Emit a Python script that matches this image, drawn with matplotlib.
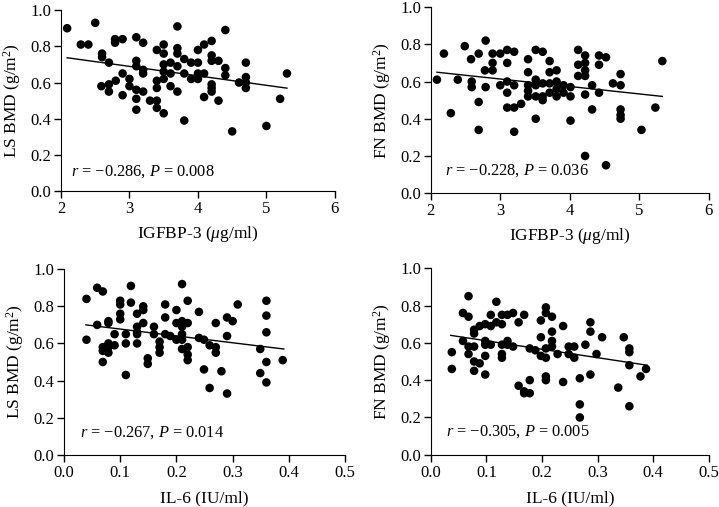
import numpy as np
import matplotlib
matplotlib.use("Agg")
import matplotlib.pyplot as plt
from matplotlib.ticker import FormatStrFormatter

plt.rcParams['font.family'] = ['Liberation Serif', 'DejaVu Serif']
plt.rcParams['mathtext.fontset'] = 'custom'
plt.rcParams['mathtext.rm'] = 'Liberation Serif'
plt.rcParams['mathtext.it'] = 'Liberation Serif:italic'

# Panel A: IGFBP-3 vs LS BMD
igf_ls_x = [2.09, 2.29, 2.40, 2.50, 2.60, 2.60, 2.70, 2.59, 2.70, 2.70, 2.80, 2.79, 2.79, 2.90, 2.90, 2.90,
            3.00, 3.00, 3.10, 3.10, 3.10, 3.10, 3.10, 3.10, 3.20, 3.20, 3.20, 3.20, 3.30, 3.40, 3.40, 3.40,
            3.40, 3.40, 3.50, 3.50, 3.50, 3.50, 3.50, 3.50, 3.60, 3.60, 3.60, 3.70, 3.70, 3.70, 3.70, 3.70,
            3.80, 3.80, 3.80, 3.90, 3.90, 4.00, 4.00, 4.00, 4.00, 4.09, 4.09, 4.09, 4.20, 4.20, 4.20, 4.20,
            4.20, 4.20, 4.30, 4.30, 4.40, 4.40, 4.40, 4.50, 4.60, 4.70, 4.70, 4.70, 4.70, 5.00, 5.20, 5.30]
igf_ls_y = [0.90, 0.81, 0.81, 0.93, 0.76, 0.74, 0.71, 0.58, 0.59, 0.55, 0.61, 0.84, 0.82, 0.84, 0.65, 0.53,
            0.62, 0.58, 0.85, 0.72, 0.69, 0.56, 0.51, 0.45, 0.82, 0.67, 0.65, 0.55, 0.50, 0.78, 0.61, 0.57,
            0.50, 0.46, 0.81, 0.76, 0.70, 0.66, 0.62, 0.43, 0.71, 0.65, 0.58, 0.91, 0.79, 0.76, 0.69, 0.55,
            0.73, 0.65, 0.39, 0.71, 0.62, 0.78, 0.71, 0.65, 0.62, 0.81, 0.65, 0.52, 0.83, 0.75, 0.72, 0.59,
            0.57, 0.55, 0.72, 0.50, 0.89, 0.68, 0.64, 0.33, 0.60, 0.71, 0.63, 0.60, 0.57, 0.36, 0.51, 0.65]
igf_ls_fit = [(2.09, 5.30), (0.737, 0.569)]

# Panel B: IGFBP-3 vs FN BMD
igf_fn_x = [2.09, 2.19, 2.29, 2.39, 2.49, 2.58, 2.59, 2.59, 2.69, 2.69, 2.69, 2.79, 2.78, 2.79, 2.89, 2.89,
            2.89, 3.00, 3.00, 3.10, 3.10, 3.10, 3.10, 3.10, 3.20, 3.20, 3.20, 3.20, 3.30, 3.40, 3.40, 3.40,
            3.40, 3.40, 3.51, 3.51, 3.51, 3.51, 3.51, 3.61, 3.61, 3.61, 3.61, 3.71, 3.71, 3.71, 3.71, 3.81,
            3.81, 3.81, 3.81, 3.91, 3.91, 4.01, 4.01, 4.01, 4.12, 4.12, 4.12, 4.22, 4.22, 4.22, 4.22, 4.22,
            4.22, 4.32, 4.32, 4.42, 4.42, 4.42, 4.52, 4.52, 4.62, 4.73, 4.73, 4.73, 4.73, 4.73, 5.03, 5.23, 5.33]
igf_fn_y = [0.61, 0.75, 0.43, 0.61, 0.79, 0.72, 0.60, 0.57, 0.75, 0.49, 0.34, 0.82, 0.66, 0.57, 0.75, 0.70,
            0.66, 0.75, 0.58, 0.77, 0.70, 0.60, 0.54, 0.46, 0.76, 0.58, 0.46, 0.33, 0.48, 0.72, 0.65, 0.58,
            0.55, 0.52, 0.77, 0.61, 0.58, 0.52, 0.40, 0.76, 0.59, 0.52, 0.50, 0.71, 0.65, 0.59, 0.54, 0.66,
            0.60, 0.56, 0.52, 0.58, 0.54, 0.57, 0.52, 0.39, 0.77, 0.69, 0.63, 0.74, 0.70, 0.66, 0.63, 0.53,
            0.20, 0.58, 0.45, 0.74, 0.69, 0.54, 0.73, 0.15, 0.59, 0.64, 0.58, 0.45, 0.42, 0.40, 0.34, 0.46, 0.71]
igf_fn_fit = [(2.09, 5.33), (0.65, 0.52)]

# Panel C: IL-6 vs LS BMD
il_ls_x = [0.040, 0.040, 0.059, 0.059, 0.069, 0.069, 0.069, 0.069, 0.079, 0.079, 0.079, 0.079, 0.079, 0.090,
           0.090, 0.100, 0.100, 0.100, 0.100, 0.110, 0.110, 0.110, 0.119, 0.119, 0.130, 0.130, 0.130, 0.130,
           0.130, 0.141, 0.141, 0.141, 0.149, 0.149, 0.160, 0.160, 0.170, 0.170, 0.170, 0.180, 0.180, 0.180,
           0.189, 0.200, 0.200, 0.200, 0.210, 0.210, 0.210, 0.210, 0.210, 0.210, 0.220, 0.220, 0.220, 0.220,
           0.220, 0.240, 0.240, 0.249, 0.249, 0.259, 0.259, 0.270, 0.270, 0.270, 0.280, 0.290, 0.290, 0.290,
           0.300, 0.309, 0.349, 0.349, 0.360, 0.360, 0.360, 0.360, 0.360, 0.389]
il_ls_y = [0.84, 0.62, 0.90, 0.70, 0.88, 0.58, 0.56, 0.50, 0.72, 0.71, 0.60, 0.58, 0.55, 0.65,
           0.59, 0.83, 0.81, 0.76, 0.73, 0.65, 0.60, 0.43, 0.91, 0.82, 0.76, 0.69, 0.66, 0.65,
           0.60, 0.80, 0.78, 0.71, 0.52, 0.49, 0.69, 0.65, 0.61, 0.58, 0.55, 0.81, 0.74, 0.65,
           0.64, 0.78, 0.71, 0.62, 0.92, 0.72, 0.69, 0.65, 0.62, 0.57, 0.83, 0.71, 0.58, 0.54,
           0.51, 0.77, 0.63, 0.62, 0.46, 0.59, 0.36, 0.71, 0.58, 0.55, 0.45, 0.74, 0.64, 0.33,
           0.72, 0.81, 0.57, 0.44, 0.83, 0.75, 0.66, 0.50, 0.39, 0.51]
il_ls_fit = [(0.039, 0.391), (0.70, 0.57)]

# Panel D: IL-6 vs FN BMD
il_fn_x = [0.038, 0.038, 0.058, 0.058, 0.068, 0.068, 0.068, 0.068, 0.078, 0.078, 0.078, 0.078, 0.078, 0.088,
           0.088, 0.098, 0.098, 0.098, 0.098, 0.098, 0.108, 0.108, 0.108, 0.118, 0.118, 0.128, 0.128, 0.128,
           0.128, 0.128, 0.138, 0.138, 0.138, 0.148, 0.148, 0.158, 0.158, 0.168, 0.168, 0.168, 0.178, 0.178,
           0.178, 0.188, 0.198, 0.198, 0.198, 0.207, 0.207, 0.207, 0.207, 0.207, 0.207, 0.218, 0.218, 0.218,
           0.218, 0.228, 0.238, 0.238, 0.248, 0.248, 0.258, 0.258, 0.268, 0.268, 0.268, 0.278, 0.287, 0.287,
           0.287, 0.298, 0.308, 0.337, 0.347, 0.357, 0.357, 0.357, 0.357, 0.377, 0.387]
il_fn_y = [0.55, 0.46, 0.76, 0.61, 0.85, 0.74, 0.58, 0.54, 0.67, 0.65, 0.58, 0.50, 0.45, 0.69,
           0.49, 0.70, 0.61, 0.59, 0.53, 0.43, 0.75, 0.69, 0.59, 0.82, 0.71, 0.75, 0.70, 0.59,
           0.54, 0.52, 0.75, 0.61, 0.59, 0.76, 0.58, 0.71, 0.37, 0.75, 0.34, 0.33, 0.57, 0.40,
           0.33, 0.56, 0.72, 0.63, 0.53, 0.79, 0.76, 0.57, 0.52, 0.42, 0.40, 0.74, 0.66, 0.61,
           0.58, 0.54, 0.69, 0.39, 0.58, 0.54, 0.58, 0.52, 0.41, 0.27, 0.20, 0.59, 0.71, 0.66,
           0.43, 0.54, 0.63, 0.36, 0.63, 0.57, 0.55, 0.48, 0.26, 0.42, 0.46]
il_fn_fit = [(0.036, 0.389), (0.64, 0.48)]

panels = [
    (igf_ls_x, igf_ls_y, igf_ls_fit, 'LS BMD (g/m$^2$)', 'IGFBP-3 ($\\mu$g/ml)',
     '$r$ = \u22120.286, $P$ = 0.008', (2, 6), [2, 3, 4, 5, 6], '%d', (2.15, 0.105), 5),
    (igf_fn_x, igf_fn_y, igf_fn_fit, 'FN BMD (g/m$^2$)', 'IGFBP-3 ($\\mu$g/ml)',
     '$r$ = \u22120.228, $P$ = 0.036', (2, 6), [2, 3, 4, 5, 6], '%d', (2.21, 0.12), 5),
    (il_ls_x, il_ls_y, il_ls_fit, 'LS BMD (g/m$^2$)', 'IL-6 (IU/ml)',
     '$r$ = \u22120.267, $P$ = 0.014', (0, 0.5), [0, 0.1, 0.2, 0.3, 0.4, 0.5], '%.1f', (0.028, 0.12), 7),
    (il_fn_x, il_fn_y, il_fn_fit, 'FN BMD (g/m$^2$)', 'IL-6 (IU/ml)',
     '$r$ = \u22120.305, $P$ = 0.005', (0, 0.5), [0, 0.1, 0.2, 0.3, 0.4, 0.5], '%.1f', (0.027, 0.125), 7),
]

rects = [
    [0.0848, 0.623, 0.381, 0.357],
    [0.599, 0.619, 0.387, 0.367],
    [0.089, 0.103, 0.391, 0.366],
    [0.599, 0.103, 0.387, 0.368],
]

fig = plt.figure(figsize=(7.19, 5.07), dpi=100)

for rect, (x, y, fit, ylab, xlab, note, xlim, xt, fmt, tpos, xpad) in zip(rects, panels):
    ax = fig.add_axes(rect)
    ax.scatter(x, y, s=38, color='black', edgecolors='none', zorder=3)
    ax.plot(fit[0], fit[1], color='black', lw=1.0, zorder=2)
    ax.set_xlim(*xlim)
    ax.set_ylim(0, 1.0)
    ax.set_xticks(xt)
    ax.set_yticks([0, 0.2, 0.4, 0.6, 0.8, 1.0])
    ax.xaxis.set_major_formatter(FormatStrFormatter(fmt))
    ax.yaxis.set_major_formatter(FormatStrFormatter('%.1f'))
    ax.spines['top'].set_visible(False)
    ax.spines['right'].set_visible(False)
    ax.tick_params(direction='out', length=5, width=1, labelsize=12, pad=2)
    ax.set_ylabel(ylab, fontsize=12.5, labelpad=5)
    ax.set_xlabel(xlab, fontsize=12.5, labelpad=xpad)
    ax.text(tpos[0], tpos[1], note, fontsize=11.8, va='center', ha='left')

fig.savefig('out.png', dpi=100)
